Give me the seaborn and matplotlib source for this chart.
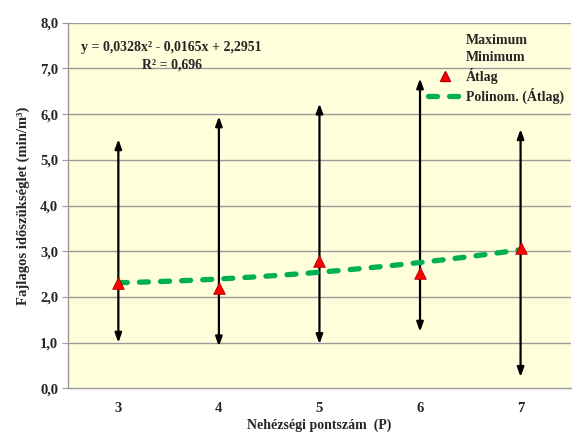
import numpy as np
import pandas as pd
import matplotlib
matplotlib.use("Agg")
import matplotlib.pyplot as plt
from matplotlib.lines import Line2D
import seaborn as sns

categories = ["3", "4", "5", "6", "7"]
maximum = [5.45, 5.95, 6.23, 6.78, 5.67]
minimum = [1.00, 0.92, 0.97, 1.24, 0.25]
atlag = [2.30, 2.19, 2.79, 2.53, 3.06]
poly_coef = [0.0328, -0.0165, 2.2951]
r2_text = "R² = 0,696"
eq_text = "y = 0,0328x² - 0,0165x + 2,2951"
y_ticks = [0, 1, 2, 3, 4, 5, 6, 7, 8]
y_tick_labels = ["0,0", "1,0", "2,0", "3,0", "4,0", "5,0", "6,0", "7,0", "8,0"]

sns.set_style("white")
plt.rcParams['font.family'] = ['Liberation Serif', 'DejaVu Serif']
plt.rcParams['font.weight'] = 'bold'

fig = plt.figure(figsize=(5.72, 4.32), dpi=100)
ax = fig.add_axes([0.119, 0.101, 0.879, 0.8465])
ax.set_facecolor("#FFFFDC")

df = pd.DataFrame({"cat": categories, "idx": np.arange(len(categories)),
                   "max": maximum, "min": minimum, "avg": atlag})

grid_c = "#9A9A9A"
for yv in y_ticks[1:]:
    ax.axhline(yv, color=grid_c, lw=1.0, zorder=0)

# min-max arrows
for _, r in df.iterrows():
    ax.annotate("", xy=(r["idx"], r["max"]), xytext=(r["idx"], r["min"]),
                arrowprops=dict(arrowstyle="<|-|>,head_length=0.55,head_width=0.2",
                                color="black", lw=1.6, shrinkA=0, shrinkB=0),
                zorder=3)

# polynomial trend line (x = 1..5)
xs = np.linspace(1, 5, 100)
ys = np.polyval(poly_coef, xs)
trend = pd.DataFrame({"x": xs - 1, "y": ys})
sns.lineplot(data=trend, x="x", y="y", ax=ax, color="#00B050", lw=3.8,
             zorder=4, legend=False)
ln = ax.lines[-1]
ln.set_dashes((1.7, 2.3))
ln.set_dash_capstyle("round")

sns.scatterplot(data=df, x="idx", y="avg", ax=ax, marker="^", s=70,
                color="#FF0000", edgecolor="#B00000", linewidth=0.6,
                zorder=5, legend=False)

ax.set_xlim(-0.5, len(categories) - 0.5)
ax.set_ylim(0, 8)
ax.set_yticks(y_ticks)
ax.set_yticklabels(y_tick_labels, fontsize=10.5, fontweight="bold")
ax.set_xticks(np.arange(len(categories)))
ax.set_xticklabels(categories, fontsize=10.5, fontweight="bold")
ax.set_xticks(np.arange(len(categories) + 1) - 0.5, minor=True)
ax.tick_params(axis="x", which="major", length=0, pad=10)
ax.tick_params(axis="x", which="minor", length=4, color=grid_c, direction="out")
ax.tick_params(axis="y", length=4, color=grid_c, direction="out", pad=3, left=True)

for s in ["top", "right"]:
    ax.spines[s].set_visible(False)
for s in ["left", "bottom"]:
    ax.spines[s].set_color(grid_c)
    ax.spines[s].set_linewidth(1.0)

ax.set_xlabel("Nehézségi pontszám  (P)", fontsize=10, fontweight="bold", labelpad=2)
ax.set_ylabel("Fajlagos időszükséglet (min/m³)", fontsize=10.5, fontweight="bold", labelpad=7)

ax.text(0.53, 7.45, eq_text, ha="center", va="center", fontsize=10, fontweight="bold")
ax.text(0.53, 7.07, r2_text, ha="center", va="center", fontsize=10, fontweight="bold")

handles = [Line2D([], [], ls="none"), Line2D([], [], ls="none"),
           Line2D([], [], ls="none", marker="^", color="#FF0000",
                  markeredgecolor="#B00000", markersize=7),
           Line2D([], [], color="#00B050", lw=3.8, dashes=(1.7, 2.3),
                  dash_capstyle="round")]
labels = ["Maximum", "Minimum", "Átlag", "Polinom. (Átlag)"]
leg = fig.legend(handles, labels, loc="upper left", bbox_to_anchor=(0.727, 0.95),
                 frameon=False, prop={"size": 10, "weight": "bold"},
                 handlelength=2.4, handletextpad=0.3, labelspacing=0.28)

fig.savefig("out.png", dpi=100)
